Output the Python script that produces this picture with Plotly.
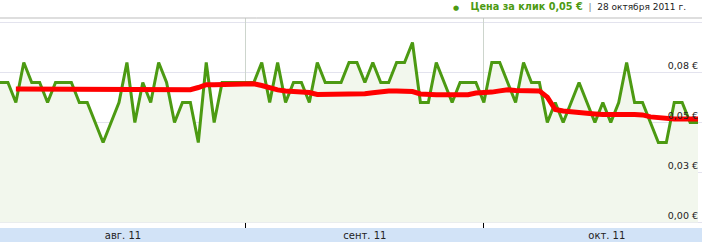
import pandas as pd
import plotly.graph_objects as go

# ---- data ----
dates = pd.date_range("2011-08-01", periods=89, freq="D")

cpc = [0.07, 0.07, 0.06, 0.08, 0.07, 0.07, 0.06, 0.07, 0.07, 0.07,
       0.06, 0.06, 0.05, 0.04, 0.05, 0.06, 0.08, 0.05, 0.07, 0.06,
       0.08, 0.07, 0.05, 0.06, 0.06, 0.04, 0.08, 0.05, 0.07, 0.07,
       0.07, 0.07, 0.07, 0.08, 0.06, 0.08, 0.06, 0.07, 0.07, 0.06,
       0.08, 0.07, 0.07, 0.07, 0.08, 0.08, 0.07, 0.08, 0.07, 0.07,
       0.08, 0.08, 0.09, 0.06, 0.06, 0.08, 0.07, 0.06, 0.07, 0.07,
       0.07, 0.06, 0.08, 0.08, 0.07, 0.06, 0.08, 0.07, 0.07, 0.05,
       0.06, 0.05, 0.06, 0.07, 0.06, 0.05, 0.06, 0.05, 0.06, 0.08,
       0.06, 0.06, 0.05, 0.04, 0.04, 0.06, 0.06, 0.05, 0.05]

trend = [None, None, 0.0668, 0.0668, 0.0668, 0.0668, 0.0668, 0.0668, 0.0668, 0.0668,
         0.0668, 0.0668, 0.0664, 0.0664, 0.0664, 0.0664, 0.0664, 0.0664, 0.0664, 0.0664,
         0.0664, 0.0664, 0.0664, 0.0664, 0.0664, 0.0675, 0.0689, 0.0689, 0.0689, 0.0694,
         0.0694, 0.0694, 0.0694, 0.0685, 0.0672, 0.0663, 0.0658, 0.0655, 0.0653, 0.0650,
         0.0640, 0.0640, 0.0640, 0.0640, 0.0640, 0.0640, 0.0644, 0.0649, 0.0655, 0.0657,
         0.0657, 0.0657, 0.0655, 0.0643, 0.0639, 0.0639, 0.0639, 0.0639, 0.0639, 0.0639,
         0.0647, 0.0648, 0.0652, 0.0658, 0.0664, 0.0660, 0.0660, 0.0660, 0.0658, 0.0627,
         0.0565, 0.0558, 0.0553, 0.0549, 0.0548, 0.0543, 0.0540, 0.0538, 0.0540, 0.0540,
         0.0540, 0.0538, 0.0528, 0.0523, 0.0519, 0.0518, 0.0518, 0.0518, 0.0518]

month_starts = ["2011-09-01", "2011-10-01"]
month_mid = ["2011-08-16 12:00", "2011-09-16", "2011-10-16 12:00"]
month_labels = ["авг. 11", "сент. 11", "окт. 11"]

y_ticks = [0, 0.025, 0.05, 0.075, 0.1]
y_labels = ["0,00 €", "0,03 €", "0,05 €", "0,08 €", ""]

x_range = ["2011-08-01", "2011-10-28 12:00"]

GREEN = "#4c9a12"
FONT = "DejaVu Sans"

fig = go.Figure()
fig.add_trace(go.Scatter(
    x=dates, y=cpc, mode="lines",
    line=dict(color=GREEN, width=3),
    fill="tozeroy", fillcolor="#f2f7ed",
    hoverinfo="skip", xaxis="x", yaxis="y"))
fig.add_trace(go.Scatter(
    x=dates, y=trend, mode="lines",
    line=dict(color="#ff0000", width=5),
    hoverinfo="skip", xaxis="x", yaxis="y"))

fig.update_layout(
    width=702, height=242,
    margin=dict(l=0, r=0, t=18, b=14),
    paper_bgcolor="white", plot_bgcolor="white",
    showlegend=False,
    font=dict(family=FONT, size=9, color="#222"),
    xaxis=dict(
        type="date", range=x_range,
        tickmode="array", tickvals=month_mid, ticktext=month_labels,
        showgrid=False, zeroline=False, showline=False, ticks="",
        tickfont=dict(family=FONT, size=10, color="#222"),
        fixedrange=True),
    xaxis2=dict(
        type="date", range=x_range, overlaying="x", matches="x",
        side="bottom", tickmode="array", tickvals=month_starts,
        showticklabels=False, showgrid=True, gridcolor="#cdd5cd", gridwidth=1,
        ticks="inside", ticklen=5, tickcolor="#000", tickwidth=1,
        zeroline=False, showline=False),
    yaxis=dict(
        range=[-0.00275, 0.10225], side="right",
        tickmode="array", tickvals=y_ticks, ticktext=y_labels,
        ticklabelposition="inside top", ticks="",
        showgrid=True, gridcolor="#e3e3ee", gridwidth=1,
        zeroline=False, showline=False,
        tickfont=dict(family=FONT, size=9.5, color="#222"),
        ticklabelstandoff=1),
    shapes=[
        dict(type="rect", xref="paper", yref="paper",
             x0=0, x1=1, y0=-14 / 210, y1=0,
             fillcolor="#d2e3f7", line=dict(width=0), layer="below"),
        dict(type="line", xref="paper", yref="paper",
             x0=0, x1=1, y0=1, y1=1,
             line=dict(color="#bdbdbd", width=1)),
    ],
    annotations=[
        dict(xref="paper", yref="paper", x=688 / 702, y=1 + 11 / 210,
             xanchor="right", yanchor="middle", showarrow=False,
             font=dict(family=FONT, size=9, color="#222"),
             text=(f'<span style="color:{GREEN};font-size:7px">●</span>    '
                   f'<b><span style="color:{GREEN};font-size:9.7px">Цена за клик 0,05 €</span></b>'
                   '  <span style="color:#777">|</span>  '
                   '<span style="color:#222">28 октября 2011 г.</span>')),
    ],
)

# attach the second (gridline/tick) axis via an invisible trace
fig.add_trace(go.Scatter(x=[dates[0]], y=[None], xaxis="x2", yaxis="y",
                         mode="lines", hoverinfo="skip", showlegend=False))

fig.write_html("out.html")
